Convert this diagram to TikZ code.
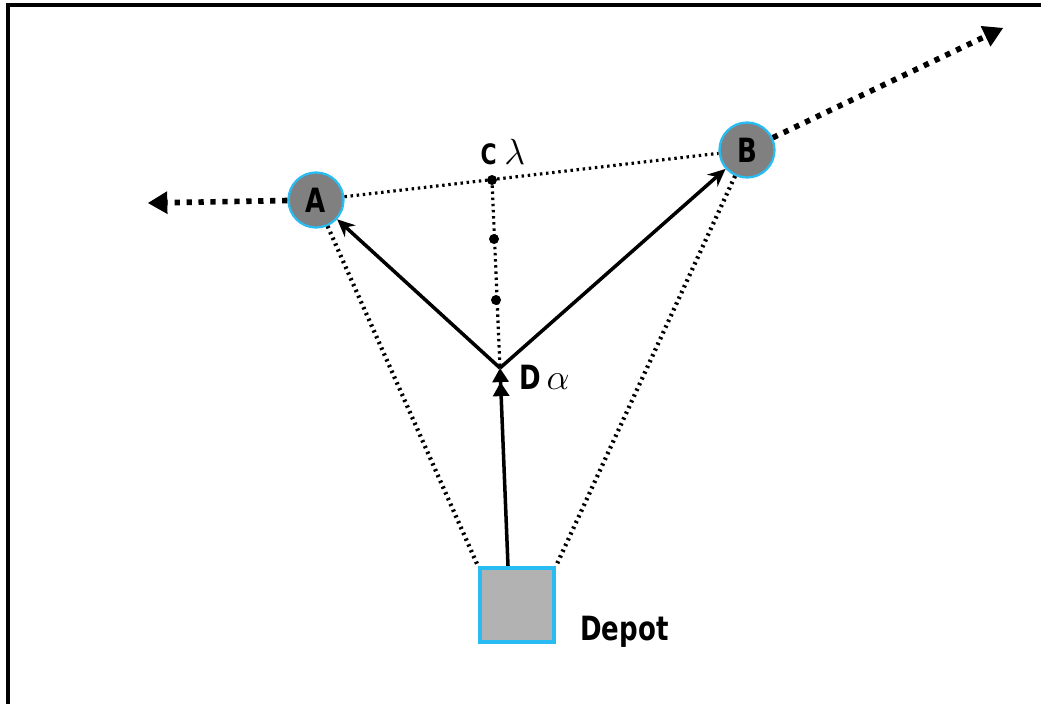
\documentclass[tikz,border=0pt]{standalone}
\usepackage{fontspec}
\usepackage{tikz}
\usetikzlibrary{arrows.meta,positioning}
\newfontfamily\lblfont[FakeStretch=0.78]{DejaVu Sans}
\definecolor{edgecyan}{RGB}{40,188,242}
\definecolor{stopgray}{RGB}{128,128,128}
\definecolor{depotgray}{RGB}{178,178,178}

\begin{document}
\begin{tikzpicture}[x=0.02cm, y=-0.02cm,
    stop/.style={circle, draw=edgecyan, line width=1.3pt, fill=stopgray, minimum size=1.1cm, inner sep=0pt, font=\lblfont\bfseries\fontsize{19}{19}\selectfont},
    depotbox/.style={rectangle, draw=edgecyan, line width=2.4pt, fill=depotgray, minimum size=1.48cm},
    lbl/.style={font=\lblfont\bfseries\fontsize{19}{19}\selectfont, inner sep=0pt},
    pt/.style={circle, fill=black, inner sep=0pt, minimum size=0.2cm},
    route/.style={line width=2pt, -{Stealth[length=10pt,width=9pt]}},
    chord/.style={line width=1.8pt, dash pattern=on 1.4pt off 2.1pt},
    spoke/.style={line width=2.4pt, dash pattern=on 1.3pt off 2.3pt},
    away/.style={line width=3.2pt, dash pattern=on 3pt off 3.8pt, -{Triangle[length=11pt,width=13pt,line width=0pt]}}
]
\useasboundingbox (0,0) rectangle (1041,704);

% frame
\draw[line width=2pt] (1041,5) -- (8,5) -- (8,704);

% customers and depot
\node[stop] (A) at (316,200) {A};
\node[stop] (B) at (747,150) {B};
\node[depotbox] (dep) at (517,605) {};
\node[lbl, anchor=west] (deplbl) at (580,632) {Depot};

% split points
\node[pt] (c) at (492,180) {};
\node[pt] (m1) at (494,239) {};
\node[pt] (m2) at (496,300) {};
\coordinate (d) at (500,368);
\node[lbl, font=\lblfont\bfseries\fontsize{16}{16}\selectfont] (clbl) at (503,152) {C {\fontsize{20}{20}\selectfont$\lambda$}};
\node[lbl, anchor=west] (dlbl) at (519,377) {D\,{\fontsize{22}{22}\selectfont$\alpha$}};

% dotted links
\draw[chord] (A) -- (B);
\draw[chord] (c) -- (d);
\draw[spoke] (A) -- (dep.north west);
\draw[spoke] (B) -- (dep.north east);

% routes
\draw[route] (d) -- (A);
\draw[route] (d) -- (B);
\draw[line width=2pt, -{Triangle[length=8pt,width=9pt]Triangle[length=8pt,width=9pt]}] ([xshift=-0.18cm]dep.north) -- (d);

% leaving the region
\coordinate (west) at (148,203);
\coordinate (east) at (1003,28);
\draw[away] (A) -- (west);
\draw[away] (B) -- (east);

\end{tikzpicture}
\end{document}
